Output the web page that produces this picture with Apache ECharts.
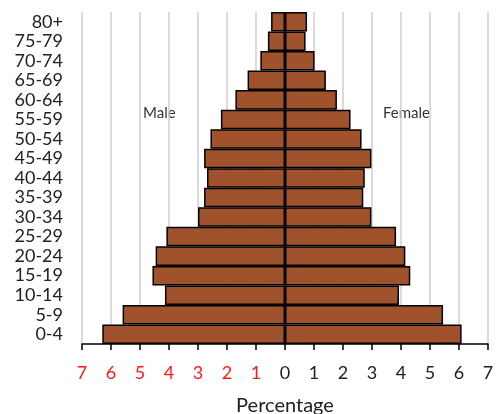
<!DOCTYPE html>
<html>
<head>
<meta charset="utf-8">
<script src="https://cdn.jsdelivr.net/npm/echarts@6/dist/echarts.min.js"></script>
<style>html,body{margin:0;padding:0;background:#fff}#c{width:498px;height:414px}</style>
</head>
<body>
<div id="c"></div>
<script>
const ageGroups = ['0-4','5-9','10-14','15-19','20-24','25-29','30-34','35-39','40-44','45-49','50-54','55-59','60-64','65-69','70-74','75-79','80+'];
const male   = [6.30, 5.60, 4.14, 4.57, 4.46, 4.09, 3.00, 2.79, 2.69, 2.79, 2.57, 2.21, 1.71, 1.29, 0.85, 0.59, 0.48];
const female = [6.09, 5.45, 3.93, 4.32, 4.15, 3.83, 2.98, 2.70, 2.75, 2.98, 2.64, 2.26, 1.79, 1.41, 1.02, 0.71, 0.76];
const xTicks = [-7,-6,-5,-4,-3,-2,-1,0,1,2,3,4,5,6,7];

const FONT = 'Lato';
const barColor = '#A0522D';
const chart = echarts.init(document.getElementById('c'), null, {renderer:'canvas'});
chart.setOption({
  animation:false,
  backgroundColor:'#fff',
  grid:{left:82,right:10,top:12,bottom:70,containLabel:false,outerBoundsMode:'none'},
  xAxis:{
    type:'value', min:-7, max:7, interval:1,
    name:'Percentage', nameLocation:'middle', nameGap:52,
    nameTextStyle:{fontFamily:FONT,fontSize:20,color:'#222'},
    axisLine:{show:true,onZero:false,lineStyle:{color:'#000',width:1.5}},
    axisTick:{show:true,length:6,lineStyle:{color:'#000',width:1.5}},
    splitLine:{show:true,lineStyle:{color:'#cfcfcf',width:1.5}},
    axisLabel:{
      margin:20, fontFamily:FONT, fontSize:18, color:'#222',
      formatter:function(v){ return v<0 ? '{r|'+Math.abs(v)+'}' : String(v); },
      rich:{r:{color:'#ff1a1a',fontFamily:FONT,fontSize:18}}
    }
  },
  yAxis:{
    type:'category', data:ageGroups,
    axisLine:{show:false}, axisTick:{show:false}, splitLine:{show:false},
    axisLabel:{interval:0,margin:19,fontFamily:FONT,fontSize:18,color:'#222'}
  },
  graphic:[
    {type:'text',left:143,top:106,style:{text:'Male',font:'15px '+FONT,fill:'#333'}},
    {type:'text',left:383,top:106,style:{text:'Female',font:'15px '+FONT,fill:'#333'}}
  ],
  series:[
    {name:'Male',type:'bar',barGap:'-100%',barCategoryGap:0,
     data:male.map(v=>-v),
     itemStyle:{color:barColor,borderColor:'#000',borderWidth:1.5},
     markLine:{symbol:'none',silent:true,label:{show:false},
       lineStyle:{color:'#000',width:2,type:'solid'},data:[{xAxis:0}]}},
    {name:'Female',type:'bar',barGap:'-100%',barCategoryGap:0,
     data:female,
     itemStyle:{color:barColor,borderColor:'#000',borderWidth:1.5}}
  ]
});
</script>
</body>
</html>
